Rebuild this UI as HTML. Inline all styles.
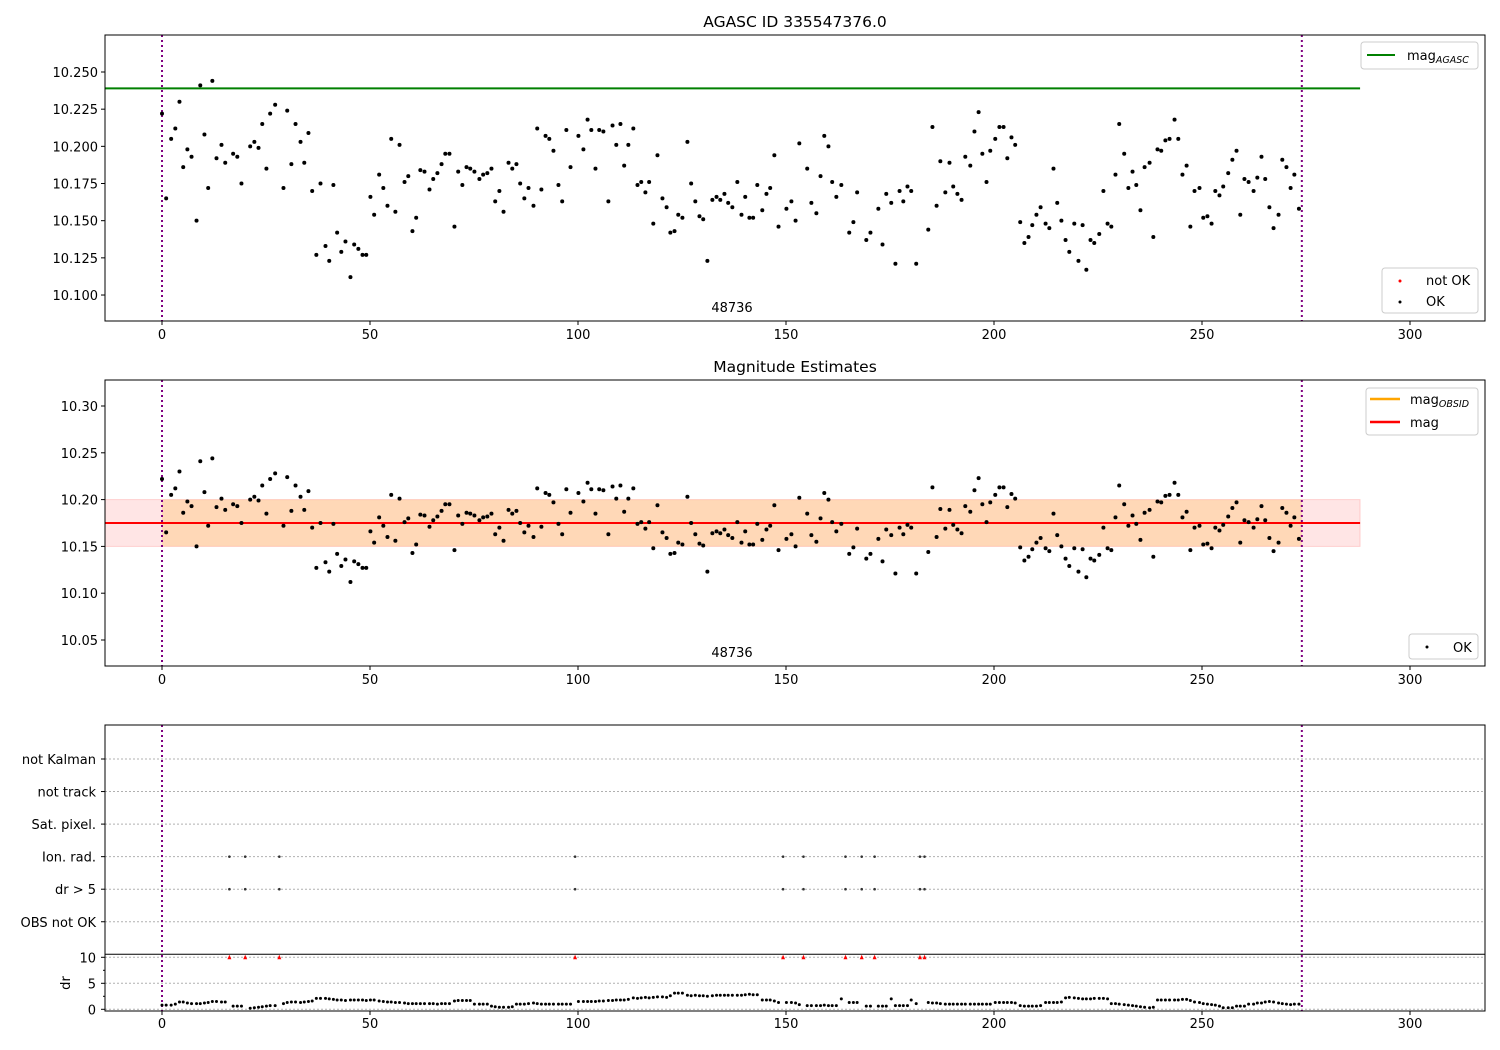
<!DOCTYPE html>
<html><head><meta charset="utf-8"><style>
html,body{margin:0;padding:0;background:#fff;}
svg{display:block;font-family:"DejaVu Sans","Liberation Sans",sans-serif;}
</style></head><body>
<svg id="chart" width="1500" height="1050" viewBox="0 0 1500 1050" xmlns="http://www.w3.org/2000/svg"></svg>
<script>
const tVals = [0,1.0,2.2,3.2,4.2,5.1,6.1,7.1,8.3,9.2,10.2,11.1,12.1,13.1,14.3,15.2,17.1,18.1,19.1,21.2,22.2,23.2,24.1,25.1,26.0,27.2,29.2,30.1,31.1,32.1,33.3,34.2,35.2,36.1,37.1,38.1,39.3,40.2,41.2,42.1,43.1,44.1,45.3,46.2,47.2,48.2,49.1,50.1,51.0,52.2,53.2,54.2,55.1,56.1,57.1,58.3,59.2,60.2,61.1,62.1,63.1,64.3,65.2,66.2,67.2,68.1,69.1,70.3,71.2,72.2,73.2,74.1,75.1,76.3,77.2,78.2,79.2,80.1,81.1,82.1,83.3,
84.2,85.2,86.1,87.1,88.1,89.3,90.2,91.2,92.2,93.1,94.1,95.3,96.2,97.2,98.2,100.1,101.3,102.3,103.2,104.2,105.1,106.1,107.3,108.3,109.2,110.2,111.1,112.1,113.3,114.3,115.2,116.2,117.1,118.1,119.1,120.3,121.3,122.2,123.2,124.1,125.1,126.3,127.2,128.2,129.2,130.1,131.1,132.3,133.3,134.2,135.2,136.1,137.1,138.3,139.3,140.2,141.2,142.1,143.1,144.3,145.3,146.2,147.2,148.2,150.1,151.3,152.3,153.2,155.1,156.1,157.3,158.3,159.2,160.2,161.1,162.1,163.3,165.2,166.2,167.1,
169.3,170.3,172.2,173.2,174.1,175.3,176.3,177.3,178.2,179.2,180.1,181.3,184.2,185.2,186.2,187.1,188.3,189.3,190.2,191.2,192.2,193.1,194.3,195.3,196.3,197.2,198.2,199.1,200.3,201.3,202.3,203.2,204.2,205.1,206.3,207.3,208.3,209.2,210.2,211.2,212.4,213.3,214.3,215.2,216.2,217.2,218.1,219.3,220.3,221.3,222.2,223.2,224.1,225.3,226.3,227.3,228.2,229.2,230.1,231.3,232.3,233.3,234.2,235.2,236.2,237.4,238.3,239.3,240.2,241.2,242.2,243.4,244.3,245.3,246.3,247.2,248.2,249.4,250.3,251.3,252.3,253.2,254.2,255.1,256.3,257.3,258.3,259.2,260.2,261.2,262.4,263.3,264.3,265.2,266.2,267.2,268.4,269.3,270.3,271.3,272.2,273.3];
const magVals = [10.222,10.165,10.205,10.212,10.230,10.186,10.198,10.193,10.150,10.241,10.208,10.172,10.244,10.192,10.201,10.189,10.195,10.193,10.175,10.200,10.203,10.199,10.215,10.185,10.222,10.228,10.172,10.224,10.188,10.215,10.203,10.189,10.209,10.170,10.127,10.175,10.133,10.123,10.174,10.142,10.129,10.136,10.112,10.134,10.131,10.127,10.127,10.166,10.154,10.181,10.172,10.160,10.205,10.156,10.201,10.176,10.180,10.143,10.152,10.184,10.183,10.171,10.178,10.182,10.188,10.195,10.195,10.146,10.183,10.174,10.186,10.185,10.183,10.178,10.181,10.182,10.185,10.163,10.170,10.156,10.189,
10.185,10.188,10.175,10.165,10.172,10.160,10.212,10.171,10.207,10.205,10.197,10.174,10.163,10.211,10.186,10.207,10.198,10.218,10.211,10.185,10.211,10.210,10.163,10.214,10.201,10.215,10.187,10.201,10.212,10.174,10.176,10.169,10.176,10.148,10.194,10.165,10.159,10.142,10.143,10.154,10.152,10.203,10.175,10.163,10.153,10.151,10.123,10.164,10.166,10.164,10.168,10.162,10.159,10.176,10.154,10.166,10.152,10.152,10.174,10.157,10.168,10.172,10.194,10.146,10.158,10.163,10.150,10.202,10.185,10.162,10.155,10.180,10.207,10.200,10.176,10.166,10.174,10.142,10.149,10.169,
10.137,10.142,10.158,10.134,10.168,10.162,10.121,10.170,10.163,10.173,10.170,10.121,10.144,10.213,10.160,10.190,10.169,10.189,10.173,10.168,10.164,10.193,10.187,10.210,10.223,10.195,10.176,10.197,10.205,10.213,10.213,10.192,10.206,10.201,10.149,10.135,10.139,10.147,10.154,10.159,10.148,10.145,10.185,10.162,10.150,10.137,10.129,10.148,10.123,10.147,10.117,10.137,10.135,10.141,10.170,10.148,10.146,10.181,10.215,10.195,10.172,10.183,10.174,10.157,10.186,10.189,10.139,10.198,10.197,10.204,10.205,10.218,10.205,10.181,10.187,10.146,10.170,10.172,10.152,10.153,10.148,10.170,10.167,10.173,10.182,10.191,10.197,10.154,10.178,10.176,10.170,10.179,10.193,10.178,10.159,10.145,10.154,10.191,10.186,10.172,10.181,10.158];
const drVals = [.8,.8,.8,1.0,1.4,1.4,1.2,1.1,1.1,1.1,1.2,1.3,1.5,1.5,1.4,1.4,.6,.6,.6,.2,.3,.4,.5,.6,.7,.7,1.1,1.3,1.4,1.4,1.3,1.4,1.5,1.6,2.1,2.1,2.1,2.0,1.9,1.8,1.8,1.7,1.8,1.8,1.8,1.8,1.7,1.8,1.8,1.6,1.5,1.4,1.4,1.3,1.3,1.2,1.1,1.1,1.1,1.1,1.1,1.1,1.1,1.0,1.1,1.1,1.1,1.6,1.7,1.7,1.7,1.7,1.0,1.0,1.0,1.0,.6,.5,.4,.4,.4,
.5,1.0,1.0,1.0,1.1,1.2,1.1,1.0,1.0,1.0,1.0,1.0,1.0,1.0,1.0,1.5,1.5,1.5,1.5,1.5,1.6,1.6,1.7,1.7,1.8,1.8,1.8,1.9,2.2,2.1,2.2,2.3,2.2,2.3,2.4,2.4,2.3,2.6,3.1,3.1,3.1,2.7,2.6,2.7,2.6,2.6,2.5,2.6,2.7,2.7,2.7,2.7,2.7,2.7,2.7,2.8,2.9,2.8,2.8,1.8,1.8,1.8,1.6,1.3,1.3,1.3,1.2,.9,.7,.7,.7,.7,.8,.7,.7,.7,2.0,1.3,1.3,1.3,
.6,.6,.6,.6,.6,2.0,.7,.7,.7,.7,1.8,1.1,1.3,1.2,1.2,1.1,1.0,1.0,1.0,1.0,1.0,1.0,1.0,1.0,1.0,1.0,1.0,1.0,1.3,1.3,1.3,1.3,1.3,1.2,.7,.6,.6,.6,.6,.7,1.3,1.3,1.3,1.3,1.4,2.2,2.3,2.2,2.1,2.0,2.0,2.0,2.1,2.1,2.1,2.0,1.1,1.1,1.0,.9,.8,.7,.6,.5,.4,.3,.4,1.8,1.8,1.8,1.8,1.8,1.8,1.9,1.9,1.7,1.4,1.3,1.1,1.0,.9,.8,.6,.3,.3,.3,.6,.6,.6,1.0,1.0,1.2,1.2,1.4,1.5,1.4,1.2,1.1,1.0,.9,1.0,1.0];
const flagT = [16.2,20.0,28.2,99.3,149.3,154.2,164.3,168.2,171.3,182.2,183.3];
const xTicks = [0,50,100,150,200,250,300];
const y1Ticks = [10.100,10.125,10.150,10.175,10.200,10.225,10.250];
const y2Ticks = [10.05,10.10,10.15,10.20,10.25,10.30];
const catLabels = ['not Kalman','not track','Sat. pixel.','Ion. rad.','dr > 5','OBS not OK'];
const drTicks = [0,5,10];
const magAgasc = 10.239, magMean = 10.175, magLo = 10.150, magHi = 10.200;
const obsStart = 0, obsEnd = 274, lineEnd = 288;

const NS='http://www.w3.org/2000/svg';
const svg=document.getElementById('chart');
function mk(tag,attrs,parent,text){const e=document.createElementNS(NS,tag);for(const k in attrs)e.setAttribute(k,attrs[k]);if(text!==undefined)e.textContent=text;(parent||svg).appendChild(e);return e;}
const L=105,R=1485;
const xS=t=>162+t*4.16;
const y1=m=>72+(10.25-m)*1486.8;
const y2=m=>406+(10.30-m)*936;
const yDr=d=>1009.3-d*5.2;
const yCat=i=>759+i*32.55;

function xAxis(top,bot,labY,name){
  const g=mk('g',{});
  
  
  xTicks.forEach(v=>{const x=xS(v);mk('line',{x1:x,x2:x,y1:bot,y2:bot+4,stroke:'#000','stroke-width':1},g);
    const t=mk('text',{x:x,y:labY,'font-size':13,'text-anchor':'middle'},g,String(v));
    });
}
function frame(top,bot,name){const r=mk('rect',{x:L,y:top,width:R-L,height:bot-top,fill:'none',stroke:'#000','stroke-width':1});}
function vlines(top,bot){[obsStart,obsEnd].forEach(t=>{const l=mk('line',{x1:xS(t),x2:xS(t),y1:top,y2:bot,stroke:'#800080','stroke-width':2,'stroke-dasharray':'2,3'});});}
function dots(yf,top,bot,name){const g=mk('g',{});
  const n=Math.min(tVals.length,magVals.length);
  for(let i=0;i<n;i++){const y=yf(magVals[i]);if(y<top||y>bot)continue;const c=mk('circle',{cx:xS(tVals[i]),cy:y,r:2,fill:'#000'},g);}}

// ---- Panel 1
mk('text',{x:795,y:27,'font-size':15.5,'text-anchor':'middle'},svg,'AGASC ID 335547376.0');
vlines(35,321);
const ag=mk('line',{x1:L,x2:xS(lineEnd),y1:y1(magAgasc),y2:y1(magAgasc),stroke:'#008000','stroke-width':2});

dots(y1,35,321,'panel1-points');
frame(35,321,'panel1-axes');
y1Ticks.forEach(v=>{const y=y1(v);mk('line',{x1:L-4,x2:L,y1:y,y2:y,stroke:'#000'});const t=mk('text',{x:L-7,y:y+5,'font-size':13,'text-anchor':'end'},svg,v.toFixed(3));});
xAxis(35,321,339,'panel1-x-axis');
mk('text',{x:732,y:312,'font-size':13,'text-anchor':'middle'},svg,'48736');
let lg=mk('g',{});
mk('rect',{x:1361,y:42,width:117,height:27,rx:3,fill:'#fff',stroke:'#ccc'},lg);
mk('line',{x1:1367,x2:1395,y1:55,y2:55,stroke:'#008000','stroke-width':2},lg);
const ta=mk('text',{x:1407,y:60,'font-size':13},lg);ta.innerHTML='mag<tspan font-size="9.5" font-style="italic" dy="3">AGASC</tspan>';
lg=mk('g',{});
mk('rect',{x:1382,y:268,width:96,height:45,rx:3,fill:'#fff',stroke:'#ccc'},lg);
mk('circle',{cx:1400,cy:281,r:1.5,fill:'red'},lg);mk('text',{x:1426,y:285,'font-size':13},lg,'not OK');
mk('circle',{cx:1400,cy:302,r:1.5,fill:'#000'},lg);mk('text',{x:1426,y:306,'font-size':13},lg,'OK');

// ---- Panel 2
mk('text',{x:795,y:372,'font-size':15.5,'text-anchor':'middle'},svg,'Magnitude Estimates');
const b1=mk('rect',{x:L,y:y2(magHi),width:xS(lineEnd)-L,height:y2(magLo)-y2(magHi),fill:'rgba(255,0,0,0.1)',stroke:'rgba(255,0,0,0.15)'});

const b2=mk('rect',{x:xS(obsStart),y:y2(magHi),width:xS(obsEnd)-xS(obsStart),height:y2(magLo)-y2(magHi),fill:'rgba(255,165,0,0.2)'});

vlines(380,666);
mk('line',{x1:xS(obsStart),x2:xS(obsEnd),y1:y2(magMean),y2:y2(magMean),stroke:'orange','stroke-width':2});
const ml=mk('line',{x1:L,x2:xS(lineEnd),y1:y2(magMean),y2:y2(magMean),stroke:'red','stroke-width':2});

dots(y2,380,666,'panel2-points');
frame(380,666,'panel2-axes');
y2Ticks.forEach(v=>{const y=y2(v);mk('line',{x1:L-4,x2:L,y1:y,y2:y,stroke:'#000'});const t=mk('text',{x:L-7,y:y+5,'font-size':13,'text-anchor':'end'},svg,v.toFixed(2));});
xAxis(380,666,684,'panel2-x-axis');
mk('text',{x:732,y:657,'font-size':13,'text-anchor':'middle'},svg,'48736');
lg=mk('g',{});
mk('rect',{x:1366,y:388,width:112,height:47,rx:3,fill:'#fff',stroke:'#ccc'},lg);
mk('line',{x1:1370,x2:1400,y1:399,y2:399,stroke:'orange','stroke-width':2.5},lg);
const tb=mk('text',{x:1410,y:404,'font-size':13},lg);tb.innerHTML='mag<tspan font-size="9.5" font-style="italic" dy="3">OBSID</tspan>';
mk('line',{x1:1370,x2:1400,y1:422,y2:422,stroke:'red','stroke-width':2.5},lg);mk('text',{x:1410,y:427,'font-size':13},lg,'mag');
lg=mk('g',{});
mk('rect',{x:1409,y:634,width:69,height:25,rx:3,fill:'#fff',stroke:'#ccc'},lg);
mk('circle',{cx:1427,cy:647,r:1.5,fill:'#000'},lg);mk('text',{x:1453,y:652,'font-size':13},lg,'OK');

// ---- Panel 3
catLabels.forEach((c,i)=>{const y=yCat(i);
  mk('line',{x1:L,x2:R,y1:y,y2:y,stroke:'#b0b0b0','stroke-dasharray':'2,2','stroke-width':1});
  mk('line',{x1:L-4,x2:L,y1:y,y2:y,stroke:'#000'});
  const t=mk('text',{x:L-9,y:y+5,'font-size':13,'text-anchor':'end'},svg,c);});
drTicks.forEach(v=>{const y=yDr(v);
  mk('line',{x1:L,x2:R,y1:y,y2:y,stroke:'#b0b0b0','stroke-dasharray':'2,2'});
  mk('line',{x1:L-4,x2:L,y1:y,y2:y,stroke:'#000'});
  const t=mk('text',{x:L-9,y:y+5,'font-size':13,'text-anchor':'end'},svg,String(v));});
[2.5,7.5].forEach(v=>mk('line',{x1:L-2,x2:L,y1:yDr(v),y2:yDr(v),stroke:'#000'}));
const drl=mk('text',{x:70,y:983,'font-size':13,'text-anchor':'middle',transform:'rotate(-90 70 983)'},svg,'dr');

vlines(725,1011);
mk('line',{x1:L,x2:R,y1:954.3,y2:954.3,stroke:'#000','stroke-width':1});
const fg=mk('g',{});
flagT.forEach(t=>{const x=xS(t);
  [3,4].forEach(i=>{const c=mk('circle',{cx:x,cy:yCat(i),r:1.3,fill:'#333'},fg);});
  const y=yDr(10);const p=mk('polygon',{points:`${x-2},${y+2} ${x+2},${y+2} ${x},${y-2.5}`,fill:'red'},fg);
  });
const dg=mk('g',{});
const nd=Math.min(tVals.length,drVals.length);
for(let i=0;i<nd;i++){const c=mk('circle',{cx:xS(tVals[i]),cy:yDr(drVals[i]),r:1.5,fill:'#000'},dg);}
frame(725,1011,'panel3-axes');
xAxis(725,1011,1028,'panel3-x-axis');
</script>
</body></html>
